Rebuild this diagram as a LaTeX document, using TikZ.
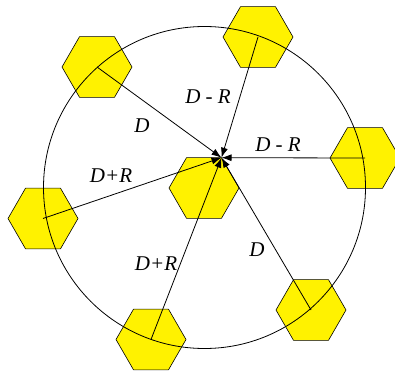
\documentclass[tikz,border=0pt]{standalone}
\usepackage{fontspec}
\setmainfont{Liberation Serif}
\usetikzlibrary{shapes.geometric,arrows.meta}
\tikzset{
  hexa/.style={regular polygon, regular polygon sides=6, minimum size=70pt, inner sep=0pt, outer sep=0pt, draw=black, line width=0.6pt, fill=yellow},
  link/.style={draw=black, line width=0.8pt, -{Latex[length=10pt,width=7pt]}},
  lbl/.style={font=\fontsize{21}{21}\selectfont\itshape, inner sep=0pt}
}
\begin{document}
\begin{tikzpicture}[x=1pt,y=-1pt]
\useasboundingbox (0,0) rectangle (395,371);
\node[hexa] (tl) at (97,67) {};
\node[hexa] (t)  at (258,37) {};
\node[hexa] (r)  at (365,158) {};
\node[hexa] (l)  at (43,218.5) {};
\node[hexa] (b)  at (151,339.5) {};
\node[hexa] (br) at (311,310) {};
\node[hexa] (c)  at (204,188) {};
\coordinate (v) at (221.5,157.7);
\draw[line width=0.8pt] (204.5,187.5) circle[radius=161pt];
\draw[link] (tl.center) -- (v);
\draw[link] (t.center) -- (v);
\draw[link] (r.center) -- (v);
\draw[link] (l.center) -- (v);
\draw[link] (b.center) -- (v);
\draw[link] (br.center) -- (v);
\node[lbl] (d1) at (142,126) {D};
\node[lbl] (d2) at (208,97) {D - R};
\node[lbl] (d3) at (278,145) {D - R};
\node[lbl] (d4) at (111,176) {D+R};
\node[lbl] (d5) at (156,264) {D+R};
\node[lbl] (d6) at (257,250) {D};
\end{tikzpicture}
\end{document}
